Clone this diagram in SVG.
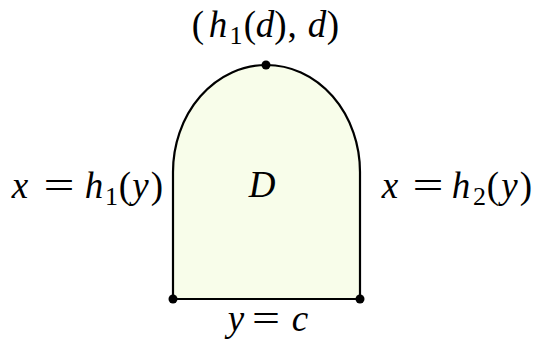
<svg xmlns="http://www.w3.org/2000/svg" width="533" height="339" viewBox="0 0 533 339">
<style>
text{font-family:"Liberation Serif","DejaVu Serif",serif;font-size:37px;fill:#000;text-anchor:middle}
.i{font-style:italic}
.s{font-size:26px}
.dot{fill:#000}
</style>
<rect width="533" height="339" fill="#fff"/>
<g id="region-D">
<path d="M173,299 L173,172 A93.5,107 0 0 1 360,172 L360,299 Z" fill="#f8fdea" stroke="#000" stroke-width="2.2"/>
<text x="262" y="197" class="i">D</text>
</g>
<g id="point-top">
<circle class="dot" cx="266" cy="65" r="4.5"/>
<text x="198" y="37">(</text><text x="218" y="37" class="i">h</text><text x="236" y="44" class="s">1</text><text x="250" y="37">(</text><text x="265" y="37" class="i">d</text><text x="280.5" y="37">)</text><text x="292" y="37">,</text><text x="317" y="37" class="i">d</text><text x="333" y="37">)</text>
</g>
<g id="point-bl"><circle class="dot" cx="173" cy="299" r="4.5"/></g>
<g id="point-br"><circle class="dot" cx="360" cy="299" r="4.5"/></g>
<g id="label-left">
<text x="20" y="198" class="i">x</text><text x="59" y="198" textLength="31" lengthAdjust="spacingAndGlyphs">=</text><text x="94" y="198" class="i">h</text><text x="111.5" y="205" class="s">1</text><text x="125" y="198">(</text><text x="140.5" y="198" class="i">y</text><text x="157" y="198">)</text>
</g>
<g id="label-right">
<text x="390" y="198" class="i">x</text><text x="428" y="198" textLength="31" lengthAdjust="spacingAndGlyphs">=</text><text x="461" y="198" class="i">h</text><text x="479.5" y="205" class="s">2</text><text x="493" y="198">(</text><text x="509.5" y="198" class="i">y</text><text x="526" y="198">)</text>
</g>
<g id="label-bottom">
<text x="236" y="331" class="i">y</text><text x="266" y="331" textLength="28" lengthAdjust="spacingAndGlyphs">=</text><text x="300" y="331" class="i">c</text>
</g>
</svg>
